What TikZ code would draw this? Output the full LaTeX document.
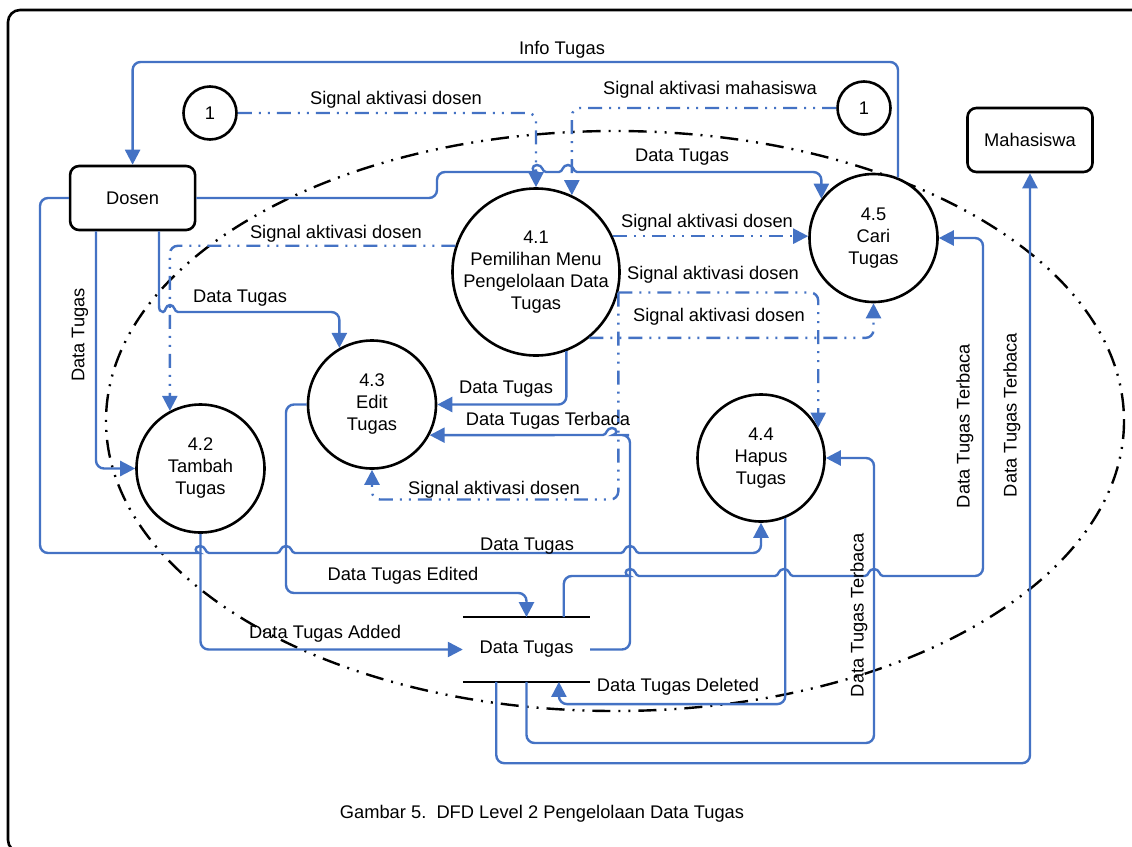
\documentclass[tikz,border=0pt]{standalone}
\usepackage{fontspec}
\setmainfont{Liberation Sans}
\usetikzlibrary{arrows.meta}
\definecolor{dfdblue}{RGB}{68,114,196}
\begin{document}
\begin{tikzpicture}[x=1pt,y=-1pt,
  font=\fontsize{18.3}{22}\selectfont,
  proc/.style={circle, draw=black, line width=2.6pt, fill=white, minimum size=128pt, inner sep=0pt, align=center},
  ext/.style={rectangle, rounded corners=9pt, draw=black, line width=2.6pt, fill=white, minimum width=125pt, minimum height=64pt},
  conn/.style={circle, draw=black, line width=2.6pt, fill=white, minimum size=53pt, inner sep=0pt},
  storebox/.style={rectangle, minimum width=127pt, minimum height=64.4pt, inner sep=0pt},
  storeline/.style={draw=black, line width=2.6pt},
  flow/.style={draw=dfdblue, line width=2.4pt, rounded corners=8pt, -{Triangle[length=15pt,width=15pt]}},
  sig/.style={flow, dash pattern=on 14pt off 7pt on 2pt off 7pt on 2pt off 7pt},
  bound/.style={draw=black, line width=2.4pt, dash pattern=on 18pt off 8pt on 2pt off 8pt on 2pt off 8pt},
  lbl/.style={inner sep=0pt},
  vlbl/.style={inner sep=0pt, rotate=90},
]
\useasboundingbox (0,0) rectangle (1132,846);
\fill[white] (0,0) rectangle (1132,846);
\begin{scope}
\clip (0,0) rectangle (1132,846);
\draw[line width=2.6pt, rounded corners=12pt] (8,10) rectangle (1150,852);
\end{scope}

% boundary ellipse
\draw[bound] (615,421) ellipse [x radius=509, y radius=290];

% nodes
\node[ext] (dosen) at (132.6,198) {Dosen};
\node[ext] (maha) at (1030,140) {Mahasiswa};
\node[conn] (c1a) at (210,113) {1};
\node[conn] (c1b) at (864,108) {1};
\node[proc, minimum size=156pt] (n41) at (536,272) {4.1\\Pemilihan Menu\\Pengelolaan Data\\Tugas};
\node[proc] (n42) at (200.5,468.5) {4.2\\Tambah\\Tugas};
\node[proc] (n43) at (372,404.5) {4.3\\Edit\\Tugas};
\node[proc, minimum size=127pt] (n44) at (761,458) {4.4\\Hapus\\Tugas};
\node[proc] (n45) at (873.5,238) {4.5\\Cari\\Tugas};
\node[storebox] (store) at (526.5,649.5) {Data Tugas};
\draw[storeline] (store.north west) -- (store.north east);
\draw[storeline] (store.south west) -- (store.south east);

% solid data flows (with line hops)
\draw[flow] (n45.68.5) -- ++(0,-115.5) -| (dosen.north);
\draw[flow] (dosen.east) -- (437,198) -- (437,172)
  -- (528,172) [sharp corners] .. controls (532,172) and (531,165) .. (537,165) .. controls (543,165) and (542,172) .. (546,172)
  -- (559,172) .. controls (563,172) and (562,165) .. (568,165) .. controls (574,165) and (573,172) .. (577,172)
  [rounded corners=8pt] -| (n45.143.6);
\draw[flow] (dosen.west) -| (40,553)
  -- (191,553) [sharp corners] .. controls (195,553) and (194,546) .. (200,546) .. controls (206,546) and (205,553) .. (209,553)
  -- (277,553) .. controls (281,553) and (280,546) .. (286,546) .. controls (292,546) and (291,553) .. (295,553)
  -- (621,553) .. controls (625,553) and (624,546) .. (630,546) .. controls (636,546) and (635,553) .. (639,553)
  [rounded corners=8pt] -| (n44.south);
\draw[flow] (96,0 |- dosen.south) |- (n42.west);
\draw[flow] (159,0 |- dosen.south) [sharp corners] -- (159,305) .. controls (159,310) and (160,312) .. (163,312)
  .. controls (166,312) and (165,305) .. (170,305) .. controls (175,305) and (174,312) .. (178,312)
  [rounded corners=8pt] -| (n43.120.8);
\draw[flow] (n41.-69) |- (n43.east);
\draw[flow] (store.east) -| (630,435) -- (621,435) [sharp corners] .. controls (617,435) and (618,428) .. (612,428) .. controls (606,428) and (607,435) .. (603,435) -- (n43.-28.5);
\draw[flow] (n43.west) -| (286,593) -| (store.north);
\draw[flow] (n42.south) |- (store.west);
\draw[flow] (n44.-68.8) -- ++(0,186) -| (store.-45.6);
\draw[flow] (store.south) |- (874,743) |- (n44.east);
\draw[flow] (store.41.4) |- (621,576) [sharp corners]
  .. controls (625,576) and (624,569) .. (630,569) .. controls (636,569) and (635,576) .. (639,576)
  -- (775,576) .. controls (779,576) and (778,569) .. (784,569) .. controls (790,569) and (789,576) .. (793,576)
  -- (865,576) .. controls (869,576) and (868,569) .. (874,569) .. controls (880,569) and (879,576) .. (883,576)
  [rounded corners=8pt] -- (983,576) |- (n45.east);
\draw[flow] (store.-133.5) -- ++(0,81.3) -| (maha.south);

% signal flows
\draw[sig] (c1a.east) -| (n41.north);
\draw[sig] (c1b.west) -| (n41.65.8);
\draw[sig] (n41.162.9) -| (n42.118.5);
\draw[sig] (n41.25) -- (n41.25 -| n45.west);
\draw[sig] (n41.-14.9) -| (n44.28);
\draw[sig] (n41.-14.9) -- ++(0,207) -| (n43.south);
\draw[sig] (n41.-51.4) -| (n45.south);

% labels
\node[lbl] (tInfo) at (562,50) {Info Tugas};
\node[lbl] (tS1) at (396,100) {Signal aktivasi dosen};
\node[lbl] (tS2) at (710,90) {Signal aktivasi mahasiswa};
\node[lbl] (tD45) at (682,157) {Data Tugas};
\node[lbl] (tS3) at (336,234) {Signal aktivasi dosen};
\node[lbl] (tS4) at (707,223) {Signal aktivasi dosen};
\node[lbl] (tS5) at (713,275) {Signal aktivasi dosen};
\node[lbl] (tS7) at (719,317) {Signal aktivasi dosen};
\node[lbl] (tD43) at (240,298) {Data Tugas};
\node[vlbl] (tD42) at (80,335) {Data Tugas};
\node[lbl] (tD4143) at (506,389) {Data Tugas};
\node[lbl] (tT43) at (548,421) {Data Tugas Terbaca};
\node[lbl] (tS6) at (494,490) {Signal aktivasi dosen};
\node[lbl] (tD44) at (527,546) {Data Tugas};
\node[lbl] (tEd) at (403,576) {Data Tugas Edited};
\node[lbl] (tAd) at (325,634) {Data Tugas Added};
\node[lbl] (tDel) at (678,687) {Data Tugas Deleted};
\node[vlbl] (tT44) at (859,615) {Data Tugas Terbaca};
\node[vlbl] (tT45) at (965,426) {Data Tugas Terbaca};
\node[vlbl] (tTM) at (1012,415) {Data Tugas Terbaca};
\node[lbl] (cap) at (542,814) {Gambar 5.\ \ DFD Level 2 Pengelolaan Data Tugas};
\end{tikzpicture}
\end{document}
